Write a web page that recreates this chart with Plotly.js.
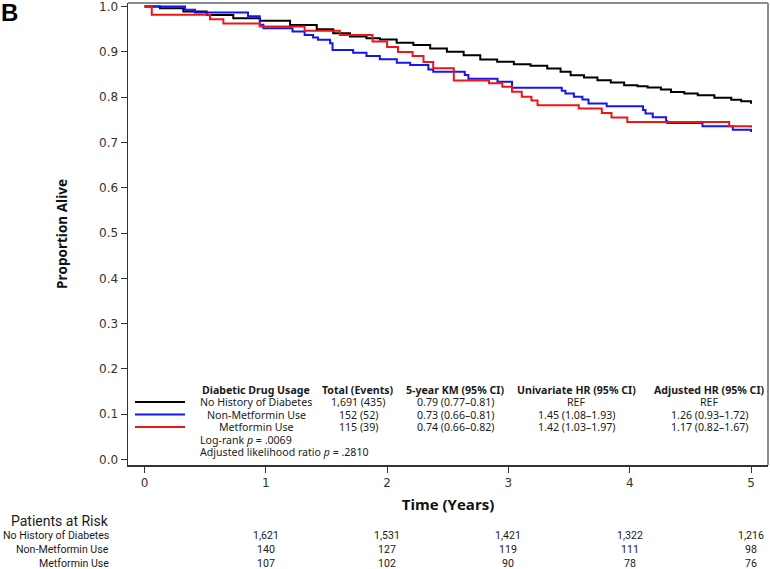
<!DOCTYPE html>
<html>
<head>
<meta charset="utf-8">
<script src="https://cdn.plot.ly/plotly-3.0.1.min.js"></script>
<style>html,body{margin:0;padding:0;background:#fff;}#chart{width:770px;height:569px;}</style>
</head>
<body>
<div id="chart"></div>
<script>
// ---- Kaplan-Meier curves ----
const noHistT = [0, 0.128, 0.32, 0.513, 0.732, 0.952, 1.2, 1.42, 1.556, 1.694, 1.83, 1.941, 2.079, 2.217, 2.355, 2.493, 2.631, 2.768, 2.907, 3.045, 3.182, 3.32, 3.43, 3.513, 3.623, 3.734, 3.844, 3.954, 4.064, 4.147, 4.257, 4.34, 4.45, 4.561, 4.698, 4.837, 4.919, 5.0];
const noHistS = [1.0, 0.9965, 0.989, 0.9817, 0.9744, 0.969, 0.9596, 0.950, 0.9413, 0.9338, 0.930, 0.9276, 0.9203, 0.915, 0.9077, 0.9004, 0.8929, 0.8834, 0.8781, 0.873, 0.8693, 0.8633, 0.856, 0.8485, 0.8434, 0.8375, 0.8324, 0.8264, 0.8242, 0.8213, 0.8169, 0.8116, 0.8081, 0.8043, 0.799, 0.7946, 0.7911, 0.7858];

const nonMetT = [0, 0.334, 0.416, 0.853, 0.95, 0.98, 1.22, 1.32, 1.39, 1.43, 1.53, 1.55, 1.72, 1.83, 1.94, 2.08, 2.19, 2.34, 2.38, 2.64, 2.67, 2.91, 3.03, 3.44, 3.47, 3.54, 3.61, 3.66, 3.81, 4.11, 4.13, 4.19, 4.30, 4.31, 4.60, 4.85, 5.0];
const nonMetS = [1.0, 0.993, 0.987, 0.979, 0.960, 0.952, 0.945, 0.9375, 0.932, 0.927, 0.919, 0.904, 0.898, 0.891, 0.884, 0.876, 0.871, 0.861, 0.856, 0.849, 0.841, 0.834, 0.821, 0.814, 0.808, 0.801, 0.795, 0.786, 0.780, 0.772, 0.764, 0.756, 0.747, 0.743, 0.736, 0.728, 0.723];

const metT = [0, 0.06, 0.54, 0.65, 0.95, 1.32, 1.61, 1.88, 2.0, 2.09, 2.21, 2.30, 2.38, 2.55, 2.84, 2.95, 3.03, 3.11, 3.19, 3.24, 3.58, 3.77, 3.85, 3.98, 4.82, 5.0];
const metS = [1.0, 0.982, 0.972, 0.963, 0.956, 0.947, 0.9375, 0.923, 0.911, 0.900, 0.891, 0.878, 0.864, 0.837, 0.831, 0.823, 0.812, 0.801, 0.793, 0.782, 0.775, 0.765, 0.755, 0.745, 0.736, 0.733];

// ---- Patients at risk ----
const riskTimes = [1, 2, 3, 4, 5];
const riskNoHist = ["1,621", "1,531", "1,421", "1,322", "1,216"];
const riskNonMet = ["140", "127", "119", "111", "98"];
const riskMet = ["107", "102", "90", "78", "76"];
const riskGroups = ["No History of Diabetes", "Non-Metformin Use", "Metformin Use"];

// ---- Inset table ----
const tableHeader = ["Diabetic Drug Usage", "Total (Events)", "5-year KM (95% CI)", "Univariate HR (95% CI)", "Adjusted HR (95% CI)"];
const tableRows = [
  ["No History of Diabetes", "1,691 (435)", "0.79 (0.77\u20130.81)", "REF", "REF"],
  ["Non-Metformin Use", "152 (52)", "0.73 (0.66\u20130.81)", "1.45 (1.08\u20131.93)", "1.26 (0.93\u20131.72)"],
  ["Metformin Use", "115 (39)", "0.74 (0.66\u20130.82)", "1.42 (1.03\u20131.97)", "1.17 (0.82\u20131.67)"]
];
const tableNotes = ["Log-rank <i>p</i> = .0069", "Adjusted likelihood ratio <i>p</i> = .2810"];

const colors = ["#000000", "#1515ee", "#ee1515"];

// ---- geometry helpers (pixel -> paper) ----
const L = 128, R = 2, T = 3, B = 104, W = 770, H = 569;
const PW = W - L - R, PH = H - T - B;
const px = x => (x - L) / PW;
const py = y => (H - B - y) / PH;

const traces = [
  {x: noHistT, y: noHistS, name: riskGroups[0]},
  {x: nonMetT, y: nonMetS, name: riskGroups[1]},
  {x: metT, y: metS, name: riskGroups[2]}
].map((t, i) => Object.assign(t, {
  type: "scatter", mode: "lines", line: {shape: "hv", color: colors[i], width: 2},
  showlegend: false, hoverinfo: "skip"
}));

const tfont = {family: "Noto Sans, DejaVu Sans, sans-serif", size: 10.6, color: "#1a1a1a"};
const annotations = [];
const colX = [256, 358, 455, 576, 709];
const rowY = [402, 414.5, 427];
tableHeader.forEach((h, i) => annotations.push({
  xref: "paper", yref: "paper", x: px(colX[i]), y: py(389.5), text: "<b>" + h + "</b>",
  showarrow: false, xanchor: "center", yanchor: "middle", font: tfont
}));
tableRows.forEach((row, r) => row.forEach((c, i) => annotations.push({
  xref: "paper", yref: "paper", x: px(colX[i]), y: py(rowY[r]), text: c,
  showarrow: false, xanchor: "center", yanchor: "middle", font: tfont
})));
tableNotes.forEach((n, k) => annotations.push({
  xref: "paper", yref: "paper", x: px(198), y: py(440 + 12 * k), text: n,
  showarrow: false, xanchor: "left", yanchor: "middle", font: tfont
}));

// Patients at risk
const rfont = {family: "Roboto, Noto Sans, sans-serif", size: 10.6, color: "#1a1a1a"};
annotations.push({
  xref: "paper", yref: "paper", x: px(111), y: py(521), text: "Patients at Risk",
  showarrow: false, xanchor: "right", yanchor: "middle",
  font: {family: "Roboto, Noto Sans, sans-serif", size: 14, color: "#1a1a1a"}
});
const riskY = [535, 549, 563];
[riskNoHist, riskNonMet, riskMet].forEach((vals, r) => {
  annotations.push({
    xref: "paper", yref: "paper", x: px(111), y: py(riskY[r]), text: riskGroups[r],
    showarrow: false, xanchor: "right", yanchor: "middle", font: rfont
  });
  vals.forEach((v, i) => annotations.push({
    xref: "x", yref: "paper", x: riskTimes[i], y: py(riskY[r]), text: v,
    showarrow: false, xanchor: "center", yanchor: "middle", font: rfont
  }));
});

// Panel letter
annotations.push({
  xref: "paper", yref: "paper", x: px(-1), y: py(-3), text: "<b>B</b>",
  showarrow: false, xanchor: "left", yanchor: "top",
  font: {family: "Liberation Sans, Arial, sans-serif", size: 24, color: "#000"}
});

const shapes = [
  {type: "line", xref: "paper", yref: "paper", x0: 0, x1: 1, y0: 1, y1: 1, line: {color: "#8c8c8c", width: 2}},
  {type: "line", xref: "paper", yref: "paper", x0: 1, x1: 1, y0: 0, y1: 1, line: {color: "#8c8c8c", width: 2}}
];
rowY.forEach((y, i) => shapes.push({
  type: "line", xref: "paper", yref: "paper", x0: px(135), x1: px(185), y0: py(y), y1: py(y),
  line: {color: colors[i], width: 2}
}));

const layout = {
  width: W, height: H,
  margin: {l: L, r: R, t: T, b: B, pad: 0},
  paper_bgcolor: "#fff", plot_bgcolor: "#fff",
  showlegend: false,
  xaxis: {
    range: [-0.136, 5.14], tickvals: [0, 1, 2, 3, 4, 5], ticks: "outside", ticklen: 6, tickwidth: 1,
    tickcolor: "#333", showline: true, linecolor: "#333", linewidth: 1.5, showgrid: false, zeroline: false,
    tickfont: {family: "DejaVu Sans, sans-serif", size: 12, color: "#333"},
    title: {text: "<b>Time (Years)</b>", standoff: 10, font: {family: "Open Sans, sans-serif", size: 15, color: "#111"}}
  },
  yaxis: {
    range: [-0.012, 1.008], tickvals: [0, 0.1, 0.2, 0.3, 0.4, 0.5, 0.6, 0.7, 0.8, 0.9, 1.0], tickformat: ".1f",
    ticks: "outside", ticklen: 6, tickwidth: 1, tickcolor: "#333", showline: true, linecolor: "#333", linewidth: 1.5,
    showgrid: false, zeroline: false, ticklabeloverflow: "allow",
    tickfont: {family: "DejaVu Sans, sans-serif", size: 12, color: "#333"},
    title: {text: "<b>Proportion Alive</b>", standoff: 28, font: {family: "Open Sans, sans-serif", size: 13.5, color: "#111"}}
  },
  annotations: annotations,
  shapes: shapes
};

Plotly.newPlot("chart", traces, layout, {staticPlot: true, displayModeBar: false});
</script>
</body>
</html>
